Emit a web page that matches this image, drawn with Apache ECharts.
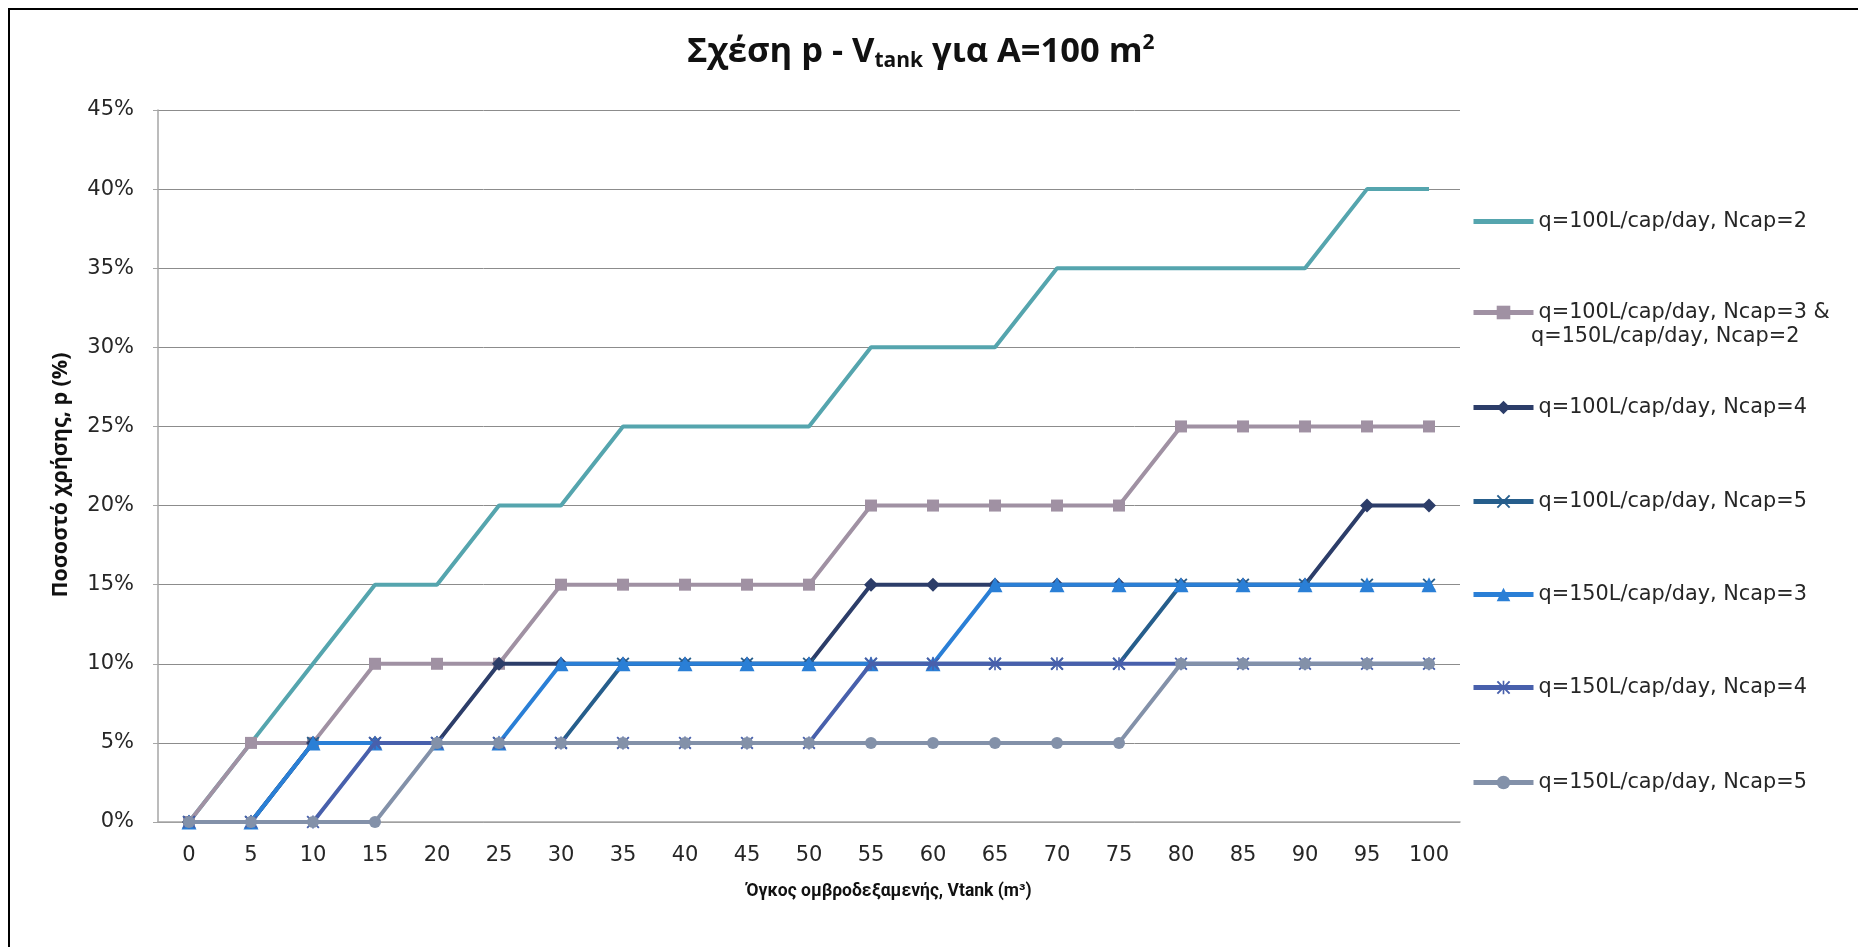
<!DOCTYPE html>
<html>
<head>
<meta charset="utf-8">
<script src="https://cdn.jsdelivr.net/npm/echarts@6/dist/echarts.min.js"></script>
<style>
  html, body { margin: 0; padding: 0; background: #fff; overflow: hidden; width: 1858px; height: 947px; }
  #frame { position: absolute; left: 8px; top: 8px; width: 1850px; height: 939px;
           border-left: 2px solid #000; border-top: 2px solid #000; box-sizing: border-box; }
  #chart { position: absolute; left: 0; top: 0; width: 1858px; height: 947px; }
</style>
</head>
<body>
<div id="frame"></div>
<div id="chart"></div>
<script>
// Tank volume categories (m³)
const volumes = ['0','5','10','15','20','25','30','35','40','45','50','55','60','65','70','75','80','85','90','95','100'];

// Usage percentage p (%) per tank volume
const q100_n2 = [0,5,10,15,15,20,20,25,25,25,25,30,30,30,35,35,35,35,35,40,40];
const q100_n3_q150_n2 = [0,5,5,10,10,10,15,15,15,15,15,20,20,20,20,20,25,25,25,25,25];
const q100_n4 = [0,0,5,5,5,10,10,10,10,10,10,15,15,15,15,15,15,15,15,20,20];
const q100_n5 = [0,0,5,5,5,5,5,10,10,10,10,10,10,10,10,10,15,15,15,15,15];
const q150_n3 = [0,0,5,5,5,5,10,10,10,10,10,10,10,15,15,15,15,15,15,15,15];
const q150_n4 = [0,0,0,5,5,5,5,5,5,5,5,10,10,10,10,10,10,10,10,10,10];
const q150_n5 = [0,0,0,0,5,5,5,5,5,5,5,5,5,5,5,5,10,10,10,10,10];

const yTicks = { min: 0, max: 45, step: 5 };

const names = [
  'q=100L/cap/day, Ncap=2',
  'q=100L/cap/day, Ncap=3 & q=150L/cap/day, Ncap=2',
  'q=100L/cap/day, Ncap=4',
  'q=100L/cap/day, Ncap=5',
  'q=150L/cap/day, Ncap=3',
  'q=150L/cap/day, Ncap=4',
  'q=150L/cap/day, Ncap=5'
];

// Cross and asterisk marker outlines
const X_PATH = 'path://M0,1 L1,0 L5,4 L9,0 L10,1 L6,5 L10,9 L9,10 L5,6 L1,10 L0,9 L4,5 Z';
const STAR_PATH = 'path://M0,1 L1,0 L5,4 L9,0 L10,1 L6,5 L10,9 L9,10 L5,6 L1,10 L0,9 L4,5 Z M4.4,0 L5.6,0 L5.6,10 L4.4,10 Z';

const styles = [
  { data: q100_n2, color: '#55A5AE', symbol: 'none', size: 0 },
  { data: q100_n3_q150_n2, color: '#A091A3', symbol: 'rect', size: 12 },
  { data: q100_n4, color: '#2C3D69', symbol: 'diamond', size: 14 },
  { data: q100_n5, color: '#265E8C', symbol: X_PATH, size: 13 },
  { data: q150_n3, color: '#2A7FD6', symbol: 'triangle', size: 15 },
  { data: q150_n4, color: '#4860AC', symbol: STAR_PATH, size: 13 },
  { data: q150_n5, color: '#8391A9', symbol: 'circle', size: 12 }
];

const series = styles.map((s, i) => ({
  name: names[i],
  type: 'line',
  data: s.data,
  symbol: s.symbol,
  symbolSize: s.size,
  showSymbol: s.symbol !== 'none',
  lineStyle: { color: s.color, width: 4 },
  itemStyle: { color: s.color },
  emphasis: { disabled: true },
  animation: false,
  z: 2 + i
}));

const legendTops = [217, 308, 403, 497, 590, 683, 778];
const legendFont = { fontFamily: 'DejaVu Sans', fontSize: 20.8, color: '#262626' };
const legends = names.map((n, i) => ({
  data: [i === 0 ? { name: n, itemStyle: { opacity: 0 } } : n],
  left: 1466,
  top: legendTops[i] - 11,
  orient: 'vertical',
  itemWidth: 60,
  itemHeight: 17,
  selectedMode: false,
  lineStyle: { width: 5 },
  formatter: i === 1 ? 'q=100L/cap/day, Ncap=3 &' : '{name}',
  textStyle: legendFont
}));

const chart = echarts.init(document.getElementById('chart'), null, { renderer: 'canvas' });
chart.setOption({
  backgroundColor: 'transparent',
  animation: false,
  title: {
    text: 'Σχέση p - V{sub|tank} για A=100 m{sup|2}',
    left: 682,
    top: 27,
    textStyle: {
      fontFamily: 'Open Sans',
      fontWeight: 'bold',
      fontSize: 34.5,
      color: '#111',
      rich: {
        sub: { fontFamily: 'Open Sans', fontWeight: 'bold', fontSize: 21, color: '#111', padding: [19, 0, 0, 0] },
        sup: { fontFamily: 'Open Sans', fontWeight: 'bold', fontSize: 21, color: '#111', padding: [0, 0, 17, 0] }
      }
    }
  },
  legend: legends,
  graphic: [{
    type: 'text',
    left: 1531,
    top: 326,
    style: { text: 'q=150L/cap/day, Ncap=2', font: '20.8px "DejaVu Sans"', fill: '#262626' }
  }],
  grid: { left: 158, right: 398, top: 110, bottom: 125 },
  xAxis: {
    type: 'category',
    data: volumes,
    boundaryGap: true,
    name: 'Όγκος ομβροδεξαμενής, Vtank (m³)',
    nameLocation: 'middle',
    nameGap: 61,
    nameTextStyle: { fontFamily: 'Roboto', fontWeight: 'bold', fontSize: 17.5, color: '#111', padding: [0, 0, 0, 160] },
    axisLine: { lineStyle: { color: '#a6a6a6', width: 1.5 } },
    axisTick: { show: false },
    axisLabel: { fontFamily: 'DejaVu Sans', fontSize: 21, color: '#262626', margin: 23 },
    splitLine: { show: false }
  },
  yAxis: {
    type: 'value',
    min: yTicks.min,
    max: yTicks.max,
    interval: yTicks.step,
    name: 'Ποσοστό χρήσης, p (%)',
    nameLocation: 'middle',
    nameGap: 86,
    nameRotate: 90,
    nameTextStyle: { fontFamily: 'Open Sans', fontWeight: 'bold', fontSize: 21.5, color: '#111', padding: [0, 18, 0, 0] },
    axisLine: { show: true, lineStyle: { color: '#a6a6a6', width: 1.5 } },
    axisTick: { show: true, length: 5, lineStyle: { color: '#a6a6a6' } },
    axisLabel: { fontFamily: 'DejaVu Sans', fontSize: 21, color: '#262626', margin: 24, formatter: '{value}%' },
    splitLine: { show: true, lineStyle: { color: '#8c8c8c', width: 1 } }
  },
  series: series
});
</script>
</body>
</html>
